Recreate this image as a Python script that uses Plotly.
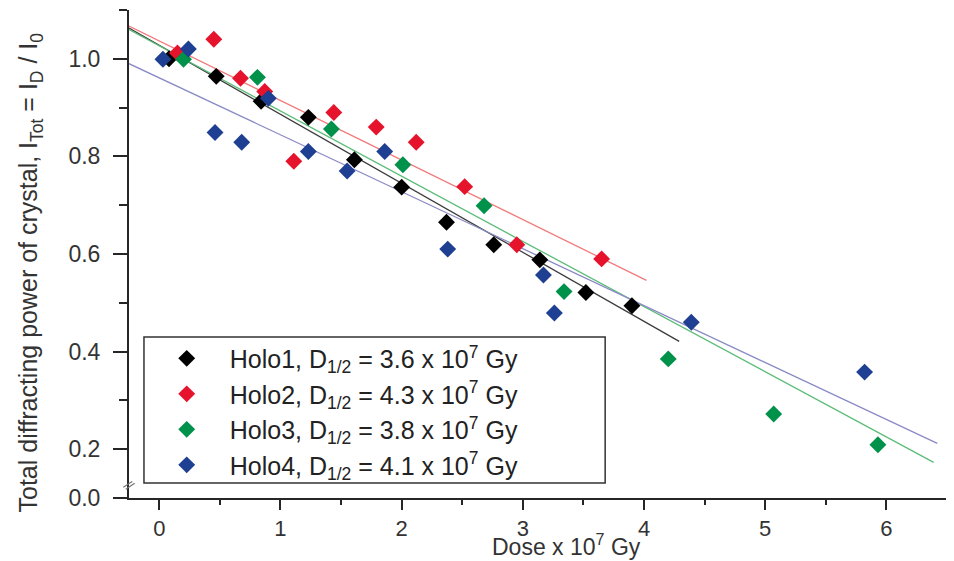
import plotly.graph_objects as go

# ---------------- data ----------------
series_names = [
    "Holo1, D<sub>1/2</sub> = 3.6 x 10<sup>7</sup> Gy",
    "Holo2, D<sub>1/2</sub> = 4.3 x 10<sup>7</sup> Gy",
    "Holo3, D<sub>1/2</sub> = 3.8 x 10<sup>7</sup> Gy",
    "Holo4, D<sub>1/2</sub> = 4.1 x 10<sup>7</sup> Gy",
]

holo1_dose = [0.08, 0.47, 0.84, 1.23, 1.61, 2.00, 2.37, 2.76, 3.14, 3.52, 3.90]
holo1_int = [1.000, 0.964, 0.913, 0.880, 0.793, 0.737, 0.665, 0.619, 0.588, 0.521, 0.494]

holo2_dose = [0.15, 0.45, 0.67, 0.87, 1.11, 1.44, 1.79, 2.12, 2.52, 2.95, 3.65]
holo2_int = [1.012, 1.040, 0.960, 0.933, 0.790, 0.890, 0.860, 0.829, 0.738, 0.619, 0.590]

holo3_dose = [0.20, 0.81, 1.42, 2.01, 2.68, 3.34, 4.20, 5.07, 5.93]
holo3_int = [0.999, 0.962, 0.856, 0.783, 0.699, 0.523, 0.385, 0.272, 0.209]

holo4_dose = [0.03, 0.24, 0.46, 0.68, 0.90, 1.23, 1.55, 1.86, 2.38, 3.17, 3.26, 4.39, 5.82]
holo4_int = [0.999, 1.020, 0.849, 0.829, 0.919, 0.810, 0.770, 0.810, 0.610, 0.557, 0.479, 0.460, 0.358]

# linear fits (end points)
fit1_dose = [-0.25, 4.29]
fit1_int = [1.063, 0.421]
fit2_dose = [-0.25, 4.02]
fit2_int = [1.067, 0.546]
fit3_dose = [-0.25, 6.39]
fit3_int = [1.060, 0.173]
fit4_dose = [-0.25, 6.42]
fit4_int = [0.990, 0.212]

x_tickvals = [0, 1, 2, 3, 4, 5, 6]
y_tickvals = [0.1, 0.2, 0.4, 0.6, 0.8, 1.0]
y_ticktext = ["0.0", "0.2", "0.4", "0.6", "0.8", "1.0"]

# ---------------- styling ----------------
marker_colors = ["#000000", "#e5132c", "#00914a", "#1e3f92"]
line_colors = ["#3c3c3c", "#f27a7a", "#5cbc78", "#8a8ac6"]
FONT = "Liberation Sans, Arial, sans-serif"

fig = go.Figure()

fits = [(fit1_dose, fit1_int), (fit2_dose, fit2_int), (fit3_dose, fit3_int), (fit4_dose, fit4_int)]
for (fx, fy), c in zip(fits, line_colors):
    fig.add_trace(go.Scatter(x=fx, y=fy, mode="lines", line=dict(color=c, width=1.3),
                             showlegend=False, hoverinfo="skip"))

data = [(holo1_dose, holo1_int), (holo2_dose, holo2_int), (holo3_dose, holo3_int), (holo4_dose, holo4_int)]
for (dx, dy), c, name in zip(data, marker_colors, series_names):
    fig.add_trace(go.Scatter(x=dx, y=dy, mode="markers", name=name,
                             marker=dict(symbol="diamond", size=13, color=c, line=dict(width=0))))

axis_color = "#262626"
fig.update_layout(
    # the page body adds an 8 px offset, so the figure is 8 px smaller than the window
    width=946, height=553,
    margin=dict(l=121, r=7, t=2, b=63),
    paper_bgcolor="white", plot_bgcolor="white",
    font=dict(family=FONT, color="#222222"),
    xaxis=dict(range=[-0.25, 6.5], tickmode="array", tickvals=x_tickvals,
               showgrid=False, zeroline=False, showline=True, linecolor=axis_color, linewidth=2,
               ticks="outside", ticklen=10, tickwidth=2, tickcolor=axis_color,
               tickfont=dict(size=22, color="#333333"),
               minor=dict(tickmode="linear", tick0=0.5, dtick=1, ticks="outside", ticklen=5,
                          tickwidth=2, tickcolor=axis_color)),
    yaxis=dict(range=[0.1, 1.1], tickmode="array", tickvals=y_tickvals, ticktext=y_ticktext,
               showgrid=False, zeroline=False, showline=True, linecolor=axis_color, linewidth=2,
               ticks="outside", ticklen=14, tickwidth=2, tickcolor=axis_color,
               tickfont=dict(size=23, color="#333333"), ticklabelstandoff=8,
               minor=dict(tickmode="array", tickvals=[0.3, 0.5, 0.7, 0.9, 1.1], ticks="outside",
                          ticklen=8, tickwidth=2, tickcolor=axis_color)),
    legend=dict(x=0.018, y=0.177, xanchor="left", yanchor="middle",
                borderwidth=0, bgcolor="rgba(0,0,0,0)",
                font=dict(size=25, family=FONT, color="#222222"),
                itemwidth=76, tracegroupgap=0),
    annotations=[
        dict(text="Dose x 10<sup>7</sup> Gy", xref="paper", yref="paper",
             x=0.535, y=-0.0963, xanchor="center", yanchor="middle", showarrow=False,
             font=dict(size=23, family=FONT, color="#333333")),
        dict(text="Total diffracting power of crystal, I<sub>Tot</sub> = I<sub>D</sub> / I<sub>0</sub>",
             xref="paper", yref="paper", x=-0.1205, y=0.463, xanchor="center", yanchor="middle",
             textangle=-90, showarrow=False, font=dict(size=25, family=FONT, color="#333333")),
    ],
    shapes=[
        # legend frame
        dict(type="rect", xref="paper", yref="paper", x0=0.0183, x1=0.5821, y0=0.0307, y1=0.330,
             line=dict(color="#333333", width=1.5), fillcolor="white", layer="above"),
        # axis-break mark
        dict(type="line", xref="paper", yref="paper", x0=-0.007, x1=0.004, y0=0.022, y1=0.034,
             line=dict(color="#777777", width=1.2)),
        dict(type="line", xref="paper", yref="paper", x0=-0.004, x1=0.007, y0=0.018, y1=0.030,
             line=dict(color="#777777", width=1.2)),
    ],
)

fig.write_html("out.html")
